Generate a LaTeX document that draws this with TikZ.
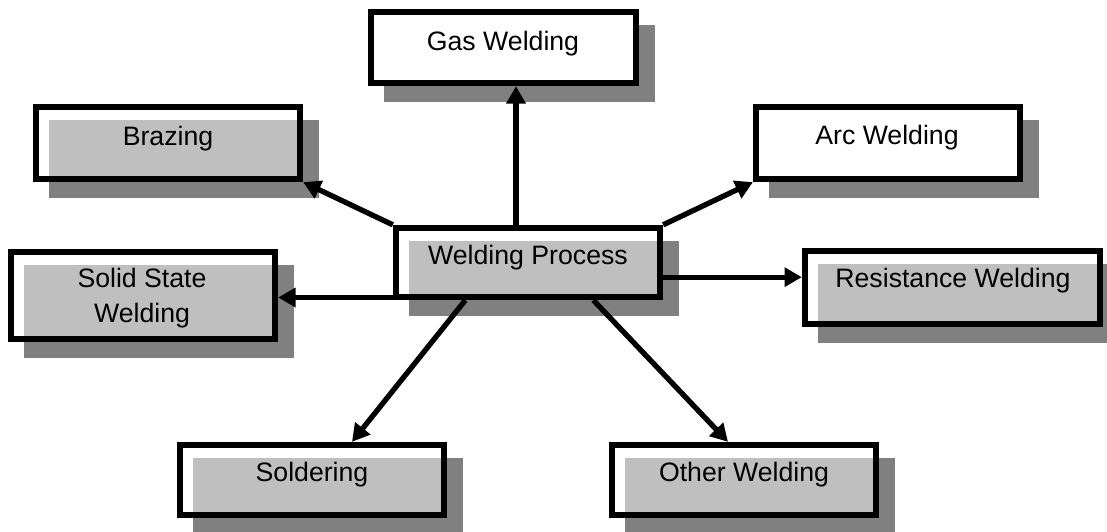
\documentclass[tikz,border=0pt]{standalone}
\usepackage{fontspec}
\setmainfont{Liberation Sans}
\usepackage{tikz}
\usetikzlibrary{arrows.meta,shadows}
\definecolor{shadowgray}{RGB}{128,128,128}

\begin{document}
\begin{tikzpicture}[x=0.75pt,y=0.75pt,yscale=-1,xscale=1,
  box/.style={draw=black, line width=4.75pt, inner sep=0pt, fill=white, fill opacity=0.5,
    drop shadow={shadow xshift=12pt, shadow yshift=-12pt, opacity=1, fill=shadowgray, draw=shadowgray}},
  plainbox/.style={box, fill opacity=1},
  txt/.style={inner sep=0.75pt, font=\fontsize{20}{26.25}\selectfont, align=center},
  conn/.style={line width=4pt, -{Triangle[length=13pt,width=14pt]}}]
\useasboundingbox (0,0) rectangle (1107,532);

%Boxes
\node [plainbox, minimum width=198.75pt, minimum height=53.25pt] (gas) at (503.5,47.5) {};
\node [box, minimum width=198pt, minimum height=54pt] (braz) at (168,143) {};
\node [plainbox, minimum width=198pt, minimum height=54pt] (arc) at (888,143) {};
\node [box, minimum width=198pt, minimum height=51.75pt] (wp) at (528,262.5) {};
\node [box, minimum width=198pt, minimum height=65.25pt] (solid) at (143,295.5) {};
\node [box, minimum width=221.25pt, minimum height=54.75pt] (res) at (952.5,287.5) {};
\node [box, minimum width=198pt, minimum height=52.5pt] (sold) at (312,480) {};
\node [box, minimum width=198pt, minimum height=52.5pt] (oth) at (744,480) {};

% Text Node
\node [txt, anchor=base] (gas-t) at (503,50) {Gas Welding};
% Text Node
\node [txt, anchor=base] (braz-t) at (168,145) {Brazing};
% Text Node
\node [txt, anchor=base] (arc-t) at (887,144) {Arc Welding};
% Text Node
\node [txt, anchor=base] (wp-t) at (528,264) {Welding Process};
% Text Node
\node [txt] (solid-t) at (142,298.5) {Solid State\\Welding};
% Text Node
\node [txt, anchor=base] (res-t) at (953,287) {Resistance Welding};
% Text Node
\node [txt, anchor=base] (sold-t) at (312,481) {Soldering};
% Text Node
\node [txt, anchor=base] (oth-t) at (744,481) {Other Welding};

%Arrows
\draw [conn] ([xshift=-9pt]wp.north) -- ([xshift=-9pt]wp.north |- gas.south);
\draw [conn] (wp.north west) -- (braz.south east);
\draw [conn] (wp.north east) -- (arc.south west);
\draw [conn] ([yshift=11pt]wp.east) -- ([yshift=11pt]wp.east -| res.west);
\draw [conn] ([yshift=-2pt]wp.south west) -- ([yshift=-2pt]wp.south west -| solid.east);
\draw [conn] ([xshift=-47pt]wp.south) -- ([xshift=30pt]sold.north);
\draw [conn] ([xshift=49pt]wp.south) -- ([xshift=-12pt]oth.north);

\end{tikzpicture}
\end{document}
